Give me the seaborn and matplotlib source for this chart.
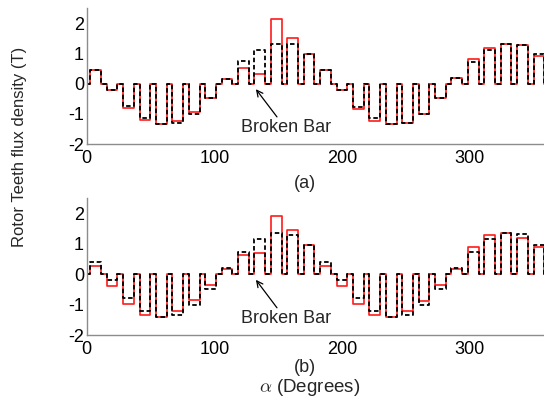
import numpy as np
import pandas as pd
import matplotlib
matplotlib.use("Agg")
import matplotlib.pyplot as plt
import seaborn as sns

# ---- data ----
n_teeth = 28
tooth_offset = 2.8      # degrees, start of each tooth pulse within its pitch
tooth_width = 8.4       # degrees

healthy_a = [0.45, -0.22, -0.75, -1.15, -1.34, -1.31, -1.00, -0.46, 0.15, 0.74, 1.13, 1.33, 1.31, 1.00,
             0.44, -0.22, -0.77, -1.15, -1.34, -1.30, -1.00, -0.47, 0.20, 0.73, 1.11, 1.31, 1.30, 0.98]
broken_a = [0.44, -0.22, -0.82, -1.20, -1.34, -1.22, -0.93, -0.46, 0.15, 0.52, 0.33, 2.16, 1.53, 1.00,
            0.44, -0.22, -0.85, -1.22, -1.34, -1.31, -1.00, -0.47, 0.20, 0.82, 1.17, 1.31, 1.28, 0.93]

healthy_b = [0.42, -0.20, -0.78, -1.20, -1.41, -1.33, -1.00, -0.47, 0.20, 0.74, 1.17, 1.37, 1.30, 0.97,
             0.42, -0.20, -0.78, -1.20, -1.40, -1.33, -1.00, -0.47, 0.20, 0.74, 1.17, 1.36, 1.31, 0.97]
broken_b = [0.28, -0.38, -0.96, -1.33, -1.40, -1.20, -0.86, -0.36, 0.16, 0.63, 0.70, 1.91, 1.47, 0.97,
            0.28, -0.39, -0.98, -1.33, -1.40, -1.20, -0.87, -0.36, 0.16, 0.91, 1.28, 1.36, 1.19, 0.89]

x_ticks = [0, 100, 200, 300]
y_ticks = [-2, -1, 0, 1, 2]
panel_labels = ["(a)", "(b)"]
annot_text = "Broken Bar"


def step_frame(values):
    pitch = 360.0 / n_teeth
    xs, ys = [0.0], [0.0]
    for i, v in enumerate(values):
        s = i * pitch + tooth_offset
        xs += [s, s + tooth_width]
        ys += [v, 0.0]
    xs.append(360.0)
    ys.append(0.0)
    return pd.DataFrame({"angle": xs, "B": ys})


sns.set_style("white")
plt.rcParams["font.family"] = ["Liberation Sans", "DejaVu Sans"]
plt.rcParams["mathtext.fontset"] = "cm"
plt.rcParams["axes.unicode_minus"] = False

fig = plt.figure(figsize=(5.44, 3.99), dpi=100)
ax_a = fig.add_axes([0.1594, 0.639, 0.845, 0.340])
ax_b = fig.add_axes([0.1594, 0.160, 0.845, 0.343])

panels = [(ax_a, healthy_a, broken_a), (ax_b, healthy_b, broken_b)]
for ax, h, b in panels:
    sns.lineplot(data=step_frame(b), x="angle", y="B", ax=ax, color="#ff1a1a",
                 linewidth=1.2, sort=False, estimator=None, drawstyle="steps-post")
    sns.lineplot(data=step_frame(h), x="angle", y="B", ax=ax, color="black",
                 linewidth=1.3, linestyle=(0, (2.5, 1.5)), sort=False, estimator=None,
                 drawstyle="steps-post")
    ax.set_xlim(0, 360)
    ax.set_ylim(-2, 2.5)
    ax.set_xticks(x_ticks)
    ax.set_yticks(y_ticks)
    ax.set_xlabel("")
    ax.set_ylabel("")
    sns.despine(ax=ax)
    for sp in ["left", "bottom"]:
        ax.spines[sp].set_color("#8c8c8c")
        ax.spines[sp].set_linewidth(1.0)
    ax.tick_params(direction="in", length=3, width=0.8, color="#8c8c8c",
                   labelsize=13, labelcolor="black", pad=2)
    ax.tick_params(axis="x", pad=4)
    ax.annotate("", xy=(132.5, -0.18), xytext=(149, -1.1),
                arrowprops=dict(arrowstyle="->", color="black", lw=0.9,
                                shrinkA=0, shrinkB=0, mutation_scale=11))
    ax.text(156, -1.45, annot_text, ha="center", va="center", fontsize=13)

fig.text(305 / 544, 1 - 183 / 399, panel_labels[0], ha="center", va="center", fontsize=13)
fig.text(305 / 544, 1 - 368 / 399, panel_labels[1], ha="center", va="center", fontsize=13)
fig.text(310 / 544, 1 - 387 / 399, r"$\alpha$ (Degrees)", ha="center", va="center", fontsize=13.5)
fig.text(20 / 544, 1 - 147 / 399, "Rotor Teeth flux density (T)", rotation=90,
         ha="center", va="center", fontsize=12)

fig.savefig("out.png", dpi=100)
